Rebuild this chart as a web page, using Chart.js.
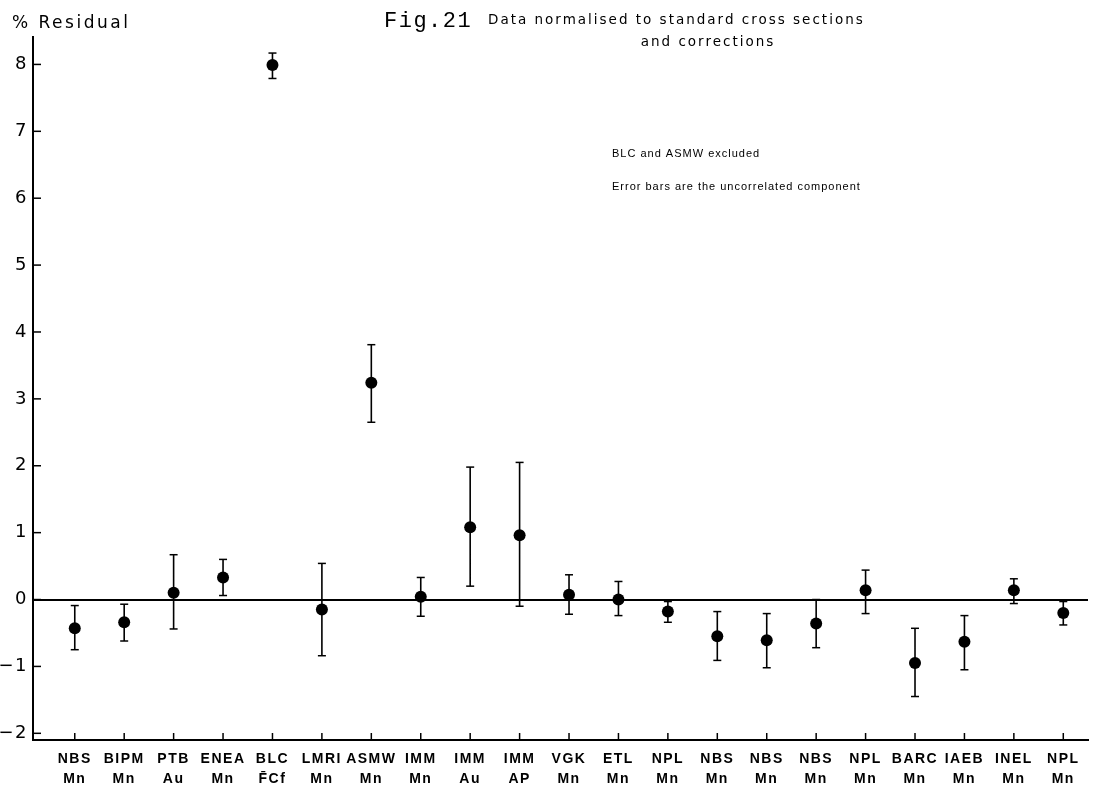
<!DOCTYPE html>
<html>
<head>
<meta charset="utf-8">
<script src="https://cdn.jsdelivr.net/npm/chart.js@4.4.1/dist/chart.umd.min.js"></script>
<style>
  html, body { margin: 0; padding: 0; background: #fff; }
  #wrap { width: 1094px; height: 801px; position: relative; }
</style>
</head>
<body>
<div id="wrap"><canvas id="c" width="1094" height="801"></canvas></div>
<script>
// ---- data ----
const labs = ["NBS","BIPM","PTB","ENEA","BLC","LMRI","ASMW","IMM","IMM","IMM","VGK","ETL","NPL","NBS","NBS","NBS","NPL","BARC","IAEB","INEL","NPL"];
const sources = ["Mn","Mn","Au","Mn","F\u0304Cf","Mn","Mn","Mn","Au","AP","Mn","Mn","Mn","Mn","Mn","Mn","Mn","Mn","Mn","Mn","Mn"];
const residual = [-0.43,-0.34,0.10,0.33,7.99,-0.15,3.24,0.04,1.08,0.96,0.07,0.00,-0.18,-0.55,-0.61,-0.36,0.14,-0.95,-0.63,0.14,-0.20];
const errHigh  = [-0.09,-0.07,0.67,0.60,8.17,0.54,3.81,0.33,1.98,2.05,0.37,0.27,-0.03,-0.18,-0.21,0.00,0.44,-0.43,-0.24,0.31,-0.03];
const errLow   = [-0.75,-0.62,-0.44,0.06,7.79,-0.84,2.65,-0.25,0.20,-0.10,-0.22,-0.24,-0.34,-0.91,-1.02,-0.72,-0.21,-1.45,-1.05,-0.06,-0.38];
const yTicks = [-2,-1,0,1,2,3,4,5,6,7,8];
const yAxisTitle = "% Residual";
const figLabel = "Fig.21";
const titleLine1 = "Data normalised to standard cross sections";
const titleLine2 = "and corrections";
const note1 = "BLC and ASMW excluded";
const note2 = "Error bars are the uncorrelated component";

// ---- datasets built from arrays ----
const pointData = residual.map((v, i) => ({ x: i, y: v }));
const barData = [];
errLow.forEach((lo, i) => { barData.push({ x: i, y: lo }, { x: i, y: errHigh[i] }, { x: i, y: null }); });
const capData = [];
errLow.forEach((lo, i) => { capData.push({ x: i, y: lo }, { x: i, y: errHigh[i] }); });

const inwardTicks = {
  id: 'inwardTicks',
  beforeDraw(chart) { chart.ctx.letterSpacing = '1.5px'; },
  afterDraw(chart) {
    const ctx = chart.ctx;
    const xs = chart.scales.x, ys = chart.scales.y;
    const area = chart.chartArea;
    ctx.save();
    ctx.strokeStyle = '#000';
    ctx.lineWidth = 1.5;
    ys.ticks.forEach(t => {
      const py = ys.getPixelForValue(t.value);
      ctx.beginPath(); ctx.moveTo(area.left, py); ctx.lineTo(area.left + 8, py); ctx.stroke();
    });
    xs.ticks.forEach(t => {
      const px = xs.getPixelForValue(t.value);
      ctx.beginPath(); ctx.moveTo(px, area.bottom); ctx.lineTo(px, area.bottom - 7); ctx.stroke();
    });
    // texts
    ctx.fillStyle = '#000';
    ctx.textBaseline = 'alphabetic';
    ctx.textAlign = 'left';
    ctx.letterSpacing = '2.5px';
    ctx.font = '17px "DejaVu Sans"';
    ctx.fillText(yAxisTitle, 12, 28);
    ctx.letterSpacing = '1.5px';
    ctx.font = '22px "Liberation Mono"';
    ctx.fillText(figLabel, 384, 27);
    ctx.letterSpacing = '2px';
    ctx.font = '13.5px "DejaVu Sans"';
    ctx.fillText(titleLine1, 488, 24);
    ctx.textAlign = 'center';
    ctx.fillText(titleLine2, 708, 46);
    ctx.textAlign = 'left';
    ctx.letterSpacing = '1px';
    ctx.font = '11px "Liberation Sans"';
    ctx.fillText(note1, 612, 157);
    ctx.fillText(note2, 612, 190);
    ctx.restore();
    ctx.letterSpacing = '0px';
  }
};

new Chart(document.getElementById('c'), {
  type: 'scatter',
  data: {
    datasets: [
      { label: 'Residual', data: pointData, pointStyle: 'circle', pointRadius: 6, pointHoverRadius: 6,
        backgroundColor: '#000', borderColor: '#000', borderWidth: 0, showLine: false },
      { label: 'caps', data: capData, pointStyle: 'line', pointRadius: 4, pointHoverRadius: 4,
        borderColor: '#000', borderWidth: 1.5, showLine: false },
      { label: 'bars', data: barData, showLine: true, spanGaps: false, pointRadius: 0, pointHoverRadius: 0,
        borderColor: '#000', borderWidth: 1.6 }
    ]
  },
  options: {
    responsive: false,
    animation: false,
    events: [],
    layout: { padding: { left: 0, top: 37, right: 1, bottom: 0 } },
    plugins: { legend: { display: false }, tooltip: { enabled: false }, title: { display: false } },
    scales: {
      x: {
        type: 'linear', min: -0.845, max: 20.5,
        afterFit(s) { s.height = 61; },
        afterBuildTicks(s) { s.ticks = labs.map((_, i) => ({ value: i })); },
        grid: { display: false, drawTicks: false },
        border: { display: true, color: '#000', width: 2 },
        ticks: {
          autoSkip: false, maxRotation: 0, minRotation: 0, padding: 9, color: '#000',
          font: { family: 'Liberation Sans', size: 14, weight: 'bold', lineHeight: 1.45 },
          callback: (v) => [labs[v], sources[v]]
        }
      },
      y: {
        type: 'linear', min: -2.1, max: 8.41,
        afterFit(s) { s.width = 33; },
        afterBuildTicks(s) { s.ticks = yTicks.map(v => ({ value: v })); },
        grid: {
          drawTicks: false,
          color: (c) => (c.tick && c.tick.value === 0) ? '#000' : 'rgba(0,0,0,0)',
          lineWidth: (c) => (c.tick && c.tick.value === 0) ? 2 : 0
        },
        border: { display: true, color: '#000', width: 2 },
        ticks: {
          padding: 5, color: '#000',
          font: { family: 'DejaVu Sans', size: 18 },
          callback: (v) => v < 0 ? '\u2212' + Math.abs(v) : String(v)
        }
      }
    }
  },
  plugins: [inwardTicks]
});
</script>
</body>
</html>
